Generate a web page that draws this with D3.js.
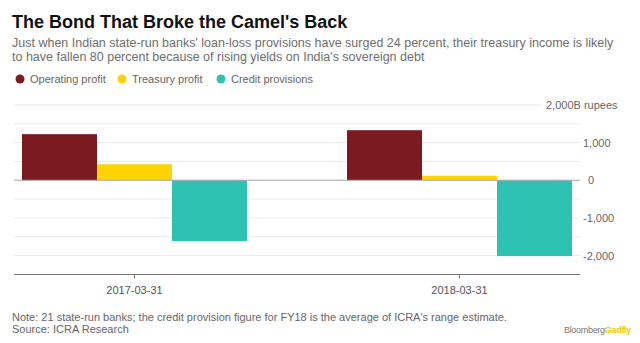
<!DOCTYPE html>
<html>
<head>
<meta charset="utf-8">
<script src="https://cdn.jsdelivr.net/npm/d3@7"></script>
<style>
  body { margin: 0; background: #fff; }
  svg { display: block; font-family: "Liberation Sans", Arial, sans-serif; }
</style>
</head>
<body>
<svg id="chart"></svg>
<script>
const WIDTH = 640;
const HEIGHT = 343;

// Data (billion rupees)
const dates = ['2017-03-31', '2018-03-31'];
const seriesNames = ['Operating profit', 'Treasury profit', 'Credit provisions'];
const operatingProfit = [1225, 1330];
const treasuryProfit = [425, 120];
const creditProvisions = [-1615, -2015];
const yTicks = [-2000, -1500, -1000, -500, 0, 500, 1000, 1500, 2000];
const yLabelTicks = [-2000, -1000, 0, 1000, 2000];

const colors = ['#7b1a20', '#fdd300', '#2dc2b1'];

const svg = d3.select('#chart')
    .attr('width', WIDTH)
    .attr('height', HEIGHT);

// Header
svg.append('text')
    .attr('x', 12).attr('y', 28)
    .attr('font-size', 18).attr('font-weight', 'bold')
    .attr('fill', '#111')
    .text("The Bond That Broke the Camel's Back");

const subtitle = [
    "Just when Indian state-run banks' loan-loss provisions have surged 24 percent, their treasury income is likely",
    "to have fallen 80 percent because of rising yields on India's sovereign debt"
];
svg.append('g').selectAll('text')
    .data(subtitle)
    .enter().append('text')
        .attr('x', 12)
        .attr('y', (d, i) => 47 + i * 14)
        .attr('font-size', 12.5)
        .attr('fill', '#6e6e6e')
        .text(d => d);

// Legend
const legendX = [20, 122, 221];
const legend = svg.append('g').selectAll('g')
    .data(seriesNames)
    .enter().append('g')
        .attr('transform', (d, i) => `translate(${legendX[i]}, 79)`);
legend.append('circle').attr('r', 4.5).attr('fill', (d, i) => colors[i]);
legend.append('text')
    .attr('x', 10).attr('y', 4)
    .attr('font-size', 11)
    .attr('fill', '#666')
    .text(d => d);

// Scales
const x0 = d3.scaleBand()
    .domain(dates)
    .range([14, 580])
    .paddingInner(100 / 325)
    .paddingOuter(0.0246);

const x1 = d3.scaleBand()
    .domain(seriesNames)
    .range([0, x0.bandwidth()]);

const y = d3.scaleLinear()
    .domain([-2000, 2000])
    .range([255.5, 105]);

// Grid
svg.append('g').selectAll('line')
    .data(yTicks)
    .enter().append('line')
        .attr('x1', 14)
        .attr('x2', d => d === 2000 ? 541 : 580)
        .attr('y1', d => y(d)).attr('y2', d => y(d))
        .attr('stroke', '#ebebeb')
        .attr('stroke-width', 1);

// Y labels (right side)
svg.append('g').selectAll('text')
    .data(yLabelTicks)
    .enter().append('text')
        .attr('x', d => d === 2000 ? 546 : (d === 0 ? 588 : (d > 0 ? 583 : 583)))
        .attr('y', d => y(d) + 4)
        .attr('font-size', 11)
        .attr('fill', '#666')
        .text(d => d === 2000 ? '2,000B rupees' : d3.format(',')(d).replace('−', '-'));

// Bars
const rows = dates.map((d, i) => ({
    date: d,
    values: [operatingProfit[i], treasuryProfit[i], creditProvisions[i]]
}));

svg.append('g').selectAll('g')
    .data(rows)
    .enter().append('g')
        .attr('transform', d => `translate(${x0(d.date)}, 0)`)
    .selectAll('rect')
    .data(d => d.values.map((v, i) => ({ name: seriesNames[i], value: v, i: i })))
    .enter().append('rect')
        .attr('x', d => x1(d.name))
        .attr('width', x1.bandwidth())
        .attr('y', d => y(Math.max(0, d.value)))
        .attr('height', d => Math.abs(y(d.value) - y(0)))
        .attr('fill', d => colors[d.i]);

// Zero line
svg.append('line')
    .attr('x1', 14).attr('x2', 580)
    .attr('y1', y(0)).attr('y2', y(0))
    .attr('stroke', '#aaa')
    .attr('stroke-width', 1);

// X axis
const xAxis = svg.append('g')
    .attr('transform', 'translate(0, 274.5)')
    .call(d3.axisBottom(x0).tickSize(4).tickSizeOuter(0).tickPadding(8));
xAxis.select('.domain').attr('stroke', '#777').attr('d', 'M14,0H580');
xAxis.selectAll('.tick line').attr('stroke', '#777');
xAxis.selectAll('.tick text')
    .attr('font-size', 11)
    .attr('font-family', '"Liberation Sans", Arial, sans-serif')
    .attr('fill', '#555');

// Footer
svg.append('text')
    .attr('x', 12).attr('y', 321)
    .attr('font-size', 11).attr('fill', '#666')
    .text("Note: 21 state-run banks; the credit provision figure for FY18 is the average of ICRA's range estimate.");
svg.append('text')
    .attr('x', 12).attr('y', 333)
    .attr('font-size', 11).attr('fill', '#666')
    .text('Source: ICRA Research');

const brand = svg.append('text')
    .attr('x', 631).attr('y', 333)
    .attr('text-anchor', 'end')
    .attr('font-size', 9)
    .attr('letter-spacing', -0.3);
brand.append('tspan').attr('fill', '#777').text('Bloomberg');
brand.append('tspan').attr('fill', '#f5c800').attr('font-weight', 'bold').text('Gadfly');
</script>
</body>
</html>
